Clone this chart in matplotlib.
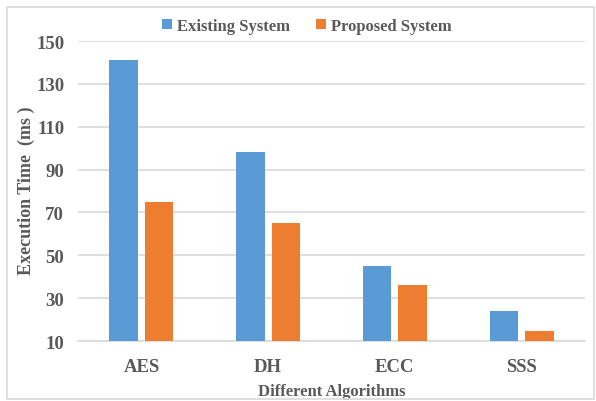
import matplotlib
matplotlib.use("Agg")
import matplotlib.pyplot as plt
from matplotlib.patches import Rectangle
import numpy as np

categories = ["AES", "DH", "ECC", "SSS"]
existing = [141, 98, 45, 24]
proposed = [75, 65, 36, 14.5]
yticks = [10, 30, 50, 70, 90, 110, 130, 150]
series_names = ["Existing System", "Proposed System"]

BLUE = "#5b9bd5"
ORANGE = "#ed7d31"
TEXT = "#595959"
GRID = "#d9d9d9"

plt.rcParams["font.family"] = ["Liberation Serif", "DejaVu Serif"]
plt.rcParams["font.weight"] = "bold"

fig = plt.figure(figsize=(5.96, 4.02), dpi=100)
ax = fig.add_axes([0.131, 0.149, 0.8505, 0.7465])

x = np.arange(len(categories))
w = 0.225
off = 0.14
base = yticks[0]
ax.bar(x - off, np.array(existing) - base, w, bottom=base, color=BLUE,
       label=series_names[0], zorder=3)
ax.bar(x + off, np.array(proposed) - base, w, bottom=base, color=ORANGE,
       label=series_names[1], zorder=3)

ax.set_xlim(-0.5, len(categories) - 0.5)
ax.set_ylim(yticks[0], yticks[-1])
ax.set_yticks(yticks)
ax.set_xticks(x)
ax.set_xticklabels(categories)
ax.yaxis.grid(True, color=GRID, linewidth=1.2, zorder=0)
ax.set_axisbelow(True)
for s in ["top", "right", "left"]:
    ax.spines[s].set_visible(False)
ax.spines["bottom"].set_color(GRID)
ax.spines["bottom"].set_linewidth(1.2)
ax.tick_params(axis="both", length=0, colors=TEXT, labelsize=13.5)
ax.tick_params(axis="y", pad=10)
ax.tick_params(axis="x", pad=12)
for lbl in ax.get_xticklabels() + ax.get_yticklabels():
    lbl.set_fontweight("bold")

ax.set_xlabel("Different Algorithms", fontsize=12, color=TEXT,
              fontweight="bold", labelpad=6)
fig.text(26 / 596, 1 - 191 / 402, "Execution Time  (ms )", rotation=90,
         ha="center", va="center", fontsize=13, color=TEXT,
         fontweight="bold")

leg = fig.legend(loc="center", bbox_to_anchor=(0.515, 0.933), ncol=2,
                 frameon=False, fontsize=12, handlelength=0.6,
                 handleheight=0.6, handletextpad=0.3, columnspacing=1.6)
for t in leg.get_texts():
    t.set_color(TEXT)
    t.set_fontweight("bold")

fig.patches.append(Rectangle((0.012, 0.005), 0.985, 0.975,
                             transform=fig.transFigure, fill=False,
                             edgecolor=GRID, linewidth=1.2))

fig.savefig("out.png", dpi=100)
